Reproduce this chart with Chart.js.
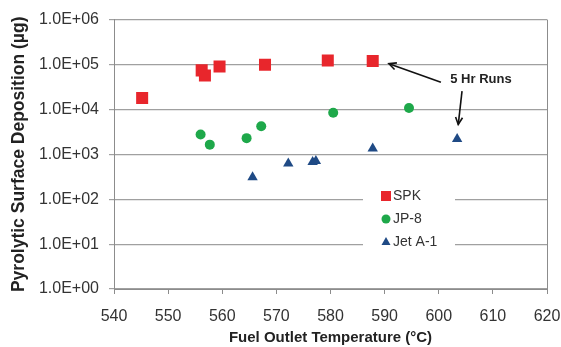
<!DOCTYPE html>
<html>
<head>
<meta charset="utf-8">
<script src="https://cdn.jsdelivr.net/npm/chart.js@4"></script>
<style>
  html, body { margin: 0; padding: 0; background: #fff; }
  #wrap { width: 561px; height: 347px; }
</style>
</head>
<body>
<div id="wrap"><canvas id="c" width="561" height="347"></canvas></div>
<script>
// fuel outlet temperature (C) vs pyrolytic deposition (ug)
const spkTemp = [545.2, 556.2, 556.8, 559.5, 567.9, 579.5, 587.8];
const spkDep  = [18000, 74000, 57000, 90000, 99000, 123000, 120000];

const jp8Temp = [556.0, 557.7, 564.5, 567.2, 580.5, 594.5];
const jp8Dep  = [2750, 1640, 2290, 4200, 8450, 10700];

const jetTemp = [565.6, 572.2, 576.7, 577.3, 587.8, 603.4];
const jetDep  = [307, 621, 675, 708, 1340, 2180];

const xTicks = [540, 550, 560, 570, 580, 590, 600, 610, 620];
const yTicks = [1, 10, 100, 1000, 10000, 100000, 1000000];

// "5 Hr Runs" note, in data units
const noteText = '5 Hr Runs';
const notePos = [607.8, 46000];
const arrows = [
    [[600.4, 40000], [590.8, 104000]],
    [[604.3, 25500], [603.6, 4600]]
];

function pts(xs, ys) {
    return xs.map((x, i) => ({x: x, y: ys[i]}));
}

const series = [
    {label: 'SPK', data: pts(spkTemp, spkDep), pointStyle: 'rect', pointRadius: 8.5, color: '#e8262c'},
    {label: 'JP-8', data: pts(jp8Temp, jp8Dep), pointStyle: 'circle', pointRadius: 5, color: '#1ea84a'},
    {label: 'Jet A-1', data: pts(jetTemp, jetDep), pointStyle: 'triangle', pointRadius: 6, color: '#1f4a85'}
];

const FONT = '"Liberation Sans", Arial, sans-serif';

const extras = {
    id: 'extras',
    afterDatasetsDraw(chart) {
        const ctx = chart.ctx;
        const xs = chart.scales.x, ys = chart.scales.y;
        const a = chart.chartArea;
        ctx.save();
        // right border
        ctx.strokeStyle = '#8c8c8c';
        ctx.lineWidth = 1;
        ctx.beginPath();
        ctx.moveTo(a.right + 0.5, a.top);
        ctx.lineTo(a.right + 0.5, a.bottom);
        ctx.stroke();

        // legend box
        const lx = 363, ly = 186, lw = 92, lh = 64;
        ctx.fillStyle = '#fff';
        ctx.fillRect(lx, ly, lw, lh);
        ctx.font = '14px ' + FONT;
        ctx.textBaseline = 'middle';
        series.forEach((s, i) => {
            const cy = 196 + i * 23;
            const cx = 386;
            ctx.fillStyle = s.color;
            ctx.beginPath();
            if (s.pointStyle === 'rect') {
                ctx.rect(cx - 5, cy - 5, 10, 10);
            } else if (s.pointStyle === 'circle') {
                ctx.arc(cx, cy, 4.5, 0, Math.PI * 2);
            } else {
                ctx.moveTo(cx, cy - 5);
                ctx.lineTo(cx + 4.5, cy + 3);
                ctx.lineTo(cx - 4.5, cy + 3);
                ctx.closePath();
            }
            ctx.fill();
            ctx.fillStyle = '#333';
            ctx.fillText(s.label, 393, cy);
        });

        // note text
        ctx.fillStyle = '#222';
        ctx.font = 'bold 13px ' + FONT;
        ctx.textAlign = 'center';
        ctx.fillText(noteText, xs.getPixelForValue(notePos[0]), ys.getPixelForValue(notePos[1]));

        // arrows
        ctx.strokeStyle = '#111';
        ctx.lineWidth = 1.6;
        arrows.forEach(ar => {
            const x0 = xs.getPixelForValue(ar[0][0]), y0 = ys.getPixelForValue(ar[0][1]);
            const x1 = xs.getPixelForValue(ar[1][0]), y1 = ys.getPixelForValue(ar[1][1]);
            const ang = Math.atan2(y1 - y0, x1 - x0);
            ctx.beginPath();
            ctx.moveTo(x0, y0);
            ctx.lineTo(x1, y1);
            ctx.stroke();
            ctx.beginPath();
            ctx.moveTo(x1 - 8 * Math.cos(ang - 0.45), y1 - 8 * Math.sin(ang - 0.45));
            ctx.lineTo(x1, y1);
            ctx.lineTo(x1 - 8 * Math.cos(ang + 0.45), y1 - 8 * Math.sin(ang + 0.45));
            ctx.stroke();
        });
        ctx.restore();
    }
};

const config = {
    type: 'scatter',
    data: {
        datasets: series.map(s => ({
            label: s.label,
            data: s.data,
            pointStyle: s.pointStyle,
            pointRadius: s.pointRadius,
            pointHoverRadius: s.pointRadius,
            backgroundColor: s.color,
            borderColor: s.color,
            borderWidth: 0
        }))
    },
    options: {
        responsive: false,
        animation: false,
        layout: {padding: {top: 14, right: 0, left: 0, bottom: 0}},
        plugins: {
            legend: {display: false},
            tooltip: {enabled: false}
        },
        scales: {
            x: {
                type: 'linear',
                min: 540,
                max: 620,
                afterBuildTicks: scale => { scale.ticks = xTicks.map(v => ({value: v})); },
                afterFit: scale => { scale.height = 58; scale.paddingRight = 14; },
                grid: {drawOnChartArea: false, drawTicks: true, tickLength: 5, color: '#8c8c8c'},
                border: {color: '#8c8c8c'},
                ticks: {
                    color: '#333',
                    padding: 13,
                    font: {family: FONT, size: 16}
                },
                title: {
                    display: true,
                    text: 'Fuel Outlet Temperature (°C)',
                    color: '#222',
                    font: {family: FONT, size: 15, weight: 'bold'},
                    padding: {top: 2, bottom: 0}
                }
            },
            y: {
                type: 'logarithmic',
                min: 1,
                max: 1000000,
                afterBuildTicks: scale => { scale.ticks = yTicks.map(v => ({value: v})); },
                afterFit: scale => { scale.width = 114; },
                grid: {color: '#a0a0a0', tickLength: 5, lineWidth: 1.2},
                border: {color: '#8c8c8c'},
                ticks: {
                    color: '#333',
                    padding: 10,
                    font: {family: FONT, size: 16},
                    callback: v => {
                        const e = Math.round(Math.log10(v));
                        return '1.0E+' + (e < 10 ? '0' : '') + e;
                    }
                },
                title: {
                    display: true,
                    text: 'Pyrolytic Surface Deposition (µg)',
                    color: '#222',
                    font: {family: FONT, size: 17.5, weight: 'bold'},
                    padding: {top: 9, bottom: 2}
                }
            }
        }
    },
    plugins: [extras]
};

new Chart(document.getElementById('c'), config);
</script>
</body>
</html>
